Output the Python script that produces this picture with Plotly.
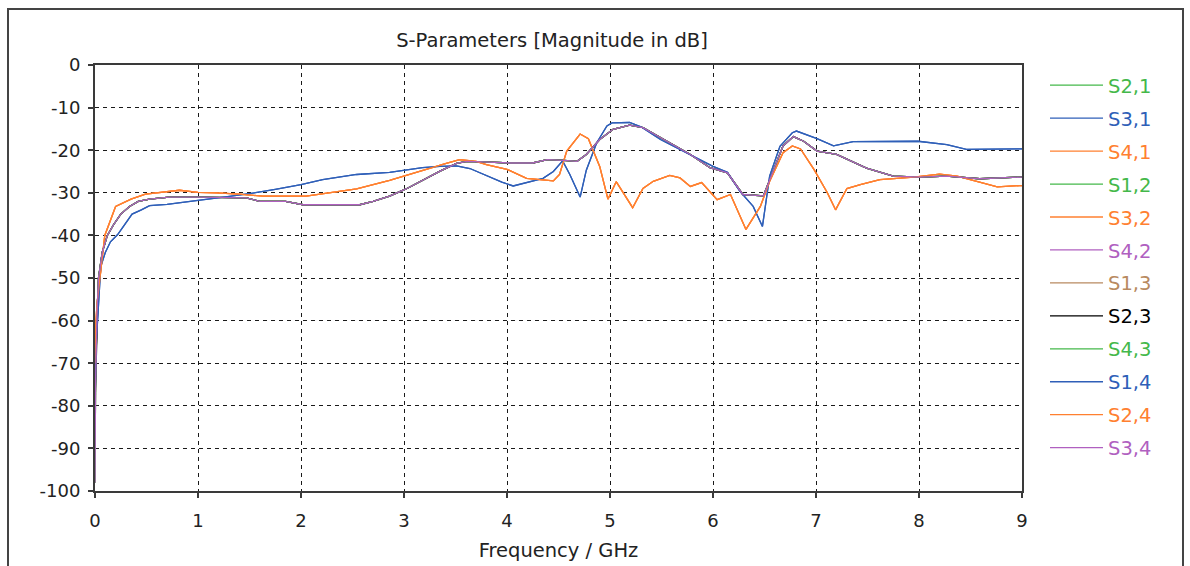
import plotly.graph_objects as go

# ---------------- data ----------------
blue_freq = [0, 0.01, 0.03, 0.056, 0.1, 0.15, 0.22, 0.3, 0.36, 0.45, 0.53, 0.7, 0.85, 1.0,
             1.25, 1.5, 1.75, 2.0, 2.21, 2.54, 2.86, 3.0, 3.18, 3.35, 3.51, 3.64, 3.83, 3.95,
             4.06, 4.2, 4.35, 4.45, 4.54, 4.61, 4.71, 4.77, 4.87, 4.97, 5.02, 5.19, 5.3, 5.49,
             5.71, 6.0, 6.14, 6.26, 6.39, 6.48, 6.55, 6.65, 6.77, 6.81, 7.01, 7.17, 7.36, 7.99,
             8.27, 8.46, 8.98, 9.0]
blue_db = [-81, -66, -58, -47.3, -44, -41.5, -39.8, -37, -35, -34, -33, -32.7, -32.3, -31.8,
           -31, -30.2, -29.2, -28.1, -26.9, -25.7, -25.2, -24.7, -24.1, -23.8, -23.7, -24.3, -26.3, -27.5,
           -28.4, -27.6, -26.6, -25.0, -22.5, -25.7, -31.0, -24.7, -18.3, -14.3, -13.6, -13.5, -14.5, -17.5,
           -20.2, -23.8, -25.2, -29.6, -33.2, -37.9, -26.1, -19.1, -15.9, -15.5, -17.3, -19.0, -18.0, -17.9,
           -18.7, -19.8, -19.7, -19.7]

purple_freq = [0, 0.005, 0.02, 0.034, 0.07, 0.12, 0.18, 0.25, 0.335, 0.42, 0.53, 0.72, 1.0, 1.2,
               1.47, 1.6, 1.85, 2.02, 2.3, 2.57, 2.7, 2.86, 3.02, 3.18, 3.35, 3.51, 3.61, 3.83,
               4.03, 4.25, 4.39, 4.55, 4.68, 4.77, 4.9, 5.03, 5.19, 5.32, 5.55, 5.78, 5.97, 6.14,
               6.29, 6.49, 6.59, 6.68, 6.78, 6.88, 7.01, 7.2, 7.49, 7.75, 8.01, 8.27, 8.59, 8.98, 9.0]
purple_db = [-98, -75, -58, -50, -44, -40, -37.5, -35, -33.2, -32, -31.5, -31.0, -31.0, -31.1,
             -31.2, -32.0, -32.0, -32.8, -32.8, -32.8, -32.0, -30.8, -29.1, -27.0, -24.9, -23.1, -22.6, -22.8,
             -23.0, -23.0, -22.2, -22.4, -22.6, -21.0, -17.5, -15.1, -14.1, -14.7, -17.9, -21.0, -24.1, -25.3,
             -30.4, -30.7, -24.5, -19.0, -16.8, -17.9, -20.2, -21.0, -24.2, -26.1, -26.3, -26.1, -26.7, -26.3, -26.3]

orange_freq = [0, 0.005, 0.02, 0.05, 0.095, 0.2, 0.35, 0.49, 0.65, 0.82, 1.0, 1.18, 1.4, 1.63,
               2.05, 2.21, 2.54, 2.86, 3.18, 3.41, 3.54, 3.7, 3.8, 4.0, 4.19, 4.32, 4.45, 4.51,
               4.58, 4.71, 4.79, 4.9, 4.98, 5.06, 5.22, 5.32, 5.42, 5.58, 5.68, 5.78, 5.89, 6.04,
               6.17, 6.32, 6.46, 6.55, 6.68, 6.77, 6.85, 6.98, 7.11, 7.19, 7.3, 7.43, 7.62, 7.95,
               8.2, 8.37, 8.6, 8.76, 8.98, 9.0]
orange_db = [-70, -62, -56, -50, -40, -33.2, -31.5, -30.3, -29.8, -29.4, -29.9, -30.0, -30.3, -30.8,
             -30.8, -30.3, -29.1, -27.1, -24.7, -23.1, -22.2, -22.6, -23.4, -24.5, -26.6, -26.9, -27.2, -25.7,
             -20.2, -16.2, -17.3, -23.8, -31.5, -27.4, -33.5, -29.0, -27.3, -25.9, -26.5, -28.5, -27.6, -31.6,
             -30.4, -38.6, -33.2, -27.3, -20.6, -19.0, -19.7, -24.5, -30.0, -34.0, -29.0, -28.1, -26.9, -26.3,
             -25.6, -26.1, -27.5, -28.6, -28.3, -28.3]

black_start_db = [-80, -75, -58]

series_names = ["S2,1", "S3,1", "S4,1", "S1,2", "S3,2", "S4,2",
                "S1,3", "S2,3", "S4,3", "S1,4", "S2,4", "S3,4"]
series_shape = ["purple", "blue", "orange", "purple", "orange", "purple",
                "purple", "black", "purple", "blue", "orange", "purple"]

x_ticks = [0, 1, 2, 3, 4, 5, 6, 7, 8, 9]
y_ticks = [0, -10, -20, -30, -40, -50, -60, -70, -80, -90, -100]

# ---------------- styling ----------------
GREEN = "#44b84a"
BLUE = "#2f5fb8"
ORANGE = "#ff8030"
PURPLE = "#b060c0"
BROWN = "#b88a60"
BLACK = "#000000"
series_colors = [GREEN, BLUE, ORANGE, GREEN, ORANGE, PURPLE,
                 BROWN, BLACK, GREEN, BLUE, ORANGE, PURPLE]

FONT = "DejaVu Sans"
TXT = "#222222"
W, H = 1190, 566
ML, MR, MT, MB = 95, 168, 65, 75

fig = go.Figure()
for name, shape, color in zip(series_names, series_shape, series_colors):
    if shape == "blue":
        fx, fy = blue_freq, blue_db
    elif shape == "orange":
        fx, fy = orange_freq, orange_db
    elif shape == "black":
        fx = purple_freq
        fy = black_start_db + purple_db[len(black_start_db):]
    else:
        fx, fy = purple_freq, purple_db
    fig.add_trace(go.Scatter(
        x=fx, y=fy, mode="lines", line=dict(color=color, width=1.3),
        name=f"<span style='color:{color}'>{name}</span>",
        legendgroup=name, showlegend=True,
    ))

pw = W - ML - MR
ph = H - MT - MB
def px_x(p):
    return (p - ML) / pw
def px_y(p):
    return (H - MB - p) / ph

fig.add_shape(type="rect", xref="paper", yref="paper",
              x0=px_x(8), x1=px_x(1183), y0=px_y(620), y1=px_y(9),
              line=dict(color="#444444", width=2), layer="below")

axis_common = dict(
    showgrid=True, gridcolor="#1a1a1a", gridwidth=1, griddash="4px,4px",
    showline=True, linecolor="#3a3a3a", linewidth=2, mirror=True,
    ticks="outside", ticklen=5, tickcolor="#3a3a3a", tickwidth=1.5,
    tickfont=dict(family=FONT, size=18, color=TXT),
    zeroline=False, automargin=False,
)

fig.update_layout(
    width=W, height=H,
    margin=dict(l=ML, r=MR, t=MT, b=MB, autoexpand=False),
    paper_bgcolor="white", plot_bgcolor="white",
    title=dict(text="S-Parameters [Magnitude in dB]", x=552 / W,
               xanchor="center", y=1 - 40 / H, yanchor="middle",
               font=dict(family=FONT, size=19.5, color=TXT)),
    xaxis=dict(range=[0, 9], tickvals=x_ticks, ticktext=[str(v) for v in x_ticks],
               ticklabelstandoff=7,
               title=dict(text="Frequency / GHz", font=dict(family=FONT, size=19.5, color=TXT),
                          standoff=14),
               **axis_common),
    yaxis=dict(range=[-100, 0], tickvals=y_ticks, ticktext=[str(v) for v in y_ticks],
               ticklabelstandoff=4,
               **axis_common),
    legend=dict(x=px_x(1045), y=px_y(66), xanchor="left", yanchor="top",
                font=dict(family=FONT, size=19.5), tracegroupgap=4.6,
                bgcolor="rgba(0,0,0,0)", itemwidth=53),
    showlegend=True,
)

fig.write_html("out.html")
